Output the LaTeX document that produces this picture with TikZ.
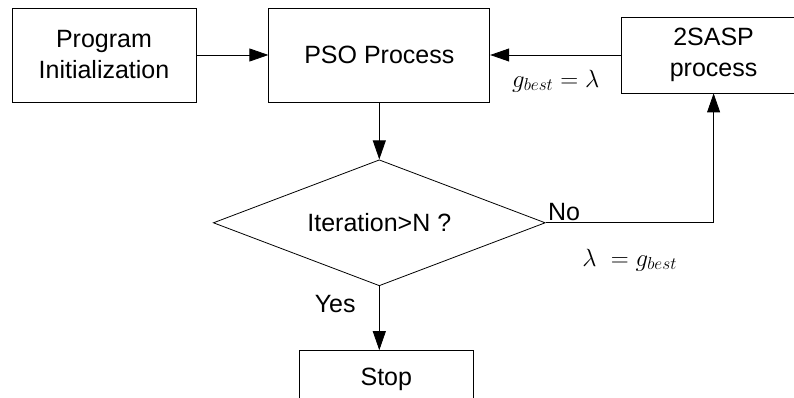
\documentclass[tikz,border=0pt]{standalone}
\usepackage{fontspec}
\setmainfont{Liberation Sans}
\usetikzlibrary{positioning, arrows.meta, shapes.geometric}

\tikzset{
  procbox/.style = {draw, rectangle, align = center, inner sep = 0pt},
  decision/.style = {draw, diamond, aspect = 2.63, inner sep = 0pt, minimum width = 332pt, minimum height = 126pt},
  flow/.style = {-{Triangle[length = 19pt, width = 13pt]}, line width = 0.8pt},
  mathlabel/.style = {font = \fontsize{26}{30}\selectfont}
}

\begin{document}
\begin{tikzpicture}[x = 1pt, y = 1pt, font = \fontsize{25}{31}\selectfont, line width = 0.8pt, draw = black]
  \path[use as bounding box, clip] (0, 0) rectangle (794, 398);

  \node (init) [procbox, minimum width = 184pt, minimum height = 94pt] at (104, 343) {Program\\Initialization};
  \node (pso) [procbox, minimum width = 221pt, minimum height = 94pt, right = 72pt of init] {PSO Process};
  \node (sasp) [procbox, minimum width = 184pt, minimum height = 76pt, right = 131pt of pso] {2SASP\\process};
  \node (iter) [decision, below = 57pt of pso] {Iteration>N ?};
  \node (stop) [procbox, minimum width = 174pt, minimum height = 58pt, below = 64pt of iter, xshift = 7pt] {Stop};

  \draw[flow] (init) -- (pso);
  \draw[flow] (pso) -- (iter);
  \draw[flow] (sasp) -- node[mathlabel, yshift = -26pt] {$g_{best} = \lambda$} (pso);
  \draw[flow] (iter.east) -| node[pos = 0, anchor = south west, inner sep = 2pt] {No}
    node[mathlabel, pos = 0.25, yshift = -37pt] {$\lambda\ = g_{best}$} (sasp.south);
  \draw[flow] (iter.south) -- node[pos = 0.28, left = 20pt] {Yes} (iter.south |- stop.north);
\end{tikzpicture}
\end{document}
